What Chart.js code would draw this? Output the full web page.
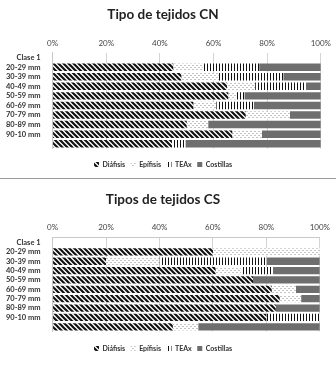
<!DOCTYPE html>
<html>
<head>
<meta charset="utf-8">
<script src="https://cdn.jsdelivr.net/npm/chart.js@4"></script>
<style>
  html, body { margin: 0; padding: 0; background: #fff; }
  #wrap { width: 336px; height: 365px; overflow: hidden; }
  .box { position: relative; width: 336px; }
  #boxCN { height: 178px; border-bottom: 1px solid #9a9a9a; }
  #boxCS { height: 186px; }
</style>
</head>
<body>
<div id="wrap">
  <div class="box" id="boxCN"><canvas id="chartCN"></canvas></div>
  <div class="box" id="boxCS"><canvas id="chartCS"></canvas></div>
</div>
<script>
const categories = ['Clase 1', '20-29 mm', '30-39 mm', '40-49 mm', '50-59 mm', '60-69 mm', '70-79 mm', '80-89 mm', '90-10 mm', ''];
const seriesNames = ['Diáfisis', 'Epífisis', 'TEAx', 'Costillas'];
const xTicks = [0, 20, 40, 60, 80, 100];

// CN (percent per row)
const cnDiafisis  = [0, 45, 48, 65, 65.5, 52.5, 72, 50, 67, 44.5];
const cnEpifisis  = [0, 11, 14, 10.5, 3, 8.5, 16.5, 8, 11, 0];
const cnTEAx      = [0, 21, 24, 19, 3, 14, 0, 0, 0, 5];
const cnCostillas = [0, 23, 14, 5.5, 28.5, 25, 11.5, 42, 22, 50.5];

// CS (percent per row)
const csDiafisis  = [0, 60, 20, 61, 75, 82, 85, 83.5, 80, 45];
const csEpifisis  = [0, 40, 20, 9.5, 0, 9, 8, 0, 0, 9.5];
const csTEAx      = [0, 0, 40, 12, 0, 0, 0, 0, 20, 0];
const csCostillas = [0, 0, 20, 17.5, 25, 9, 7, 16.5, 0, 45.5];

const FONT = 'Lato, "Liberation Sans", sans-serif';

function tile(w, h, draw) {
    const c = document.createElement('canvas');
    c.width = w; c.height = h;
    const g = c.getContext('2d');
    g.fillStyle = '#fff';
    g.fillRect(0, 0, w, h);
    draw(g);
    return document.createElement('canvas').getContext('2d').createPattern(c, 'repeat');
}

// diagonal "\" stripes
const diagFill = tile(5, 5, g => {
    g.strokeStyle = '#111';
    g.lineWidth = 2.2;
    g.beginPath();
    g.moveTo(-1, -1); g.lineTo(6, 6);
    g.moveTo(-4, 1); g.lineTo(4, 9);
    g.moveTo(1, -4); g.lineTo(9, 4);
    g.stroke();
});
// light dotted white
const dotFill = tile(4, 4, g => {
    g.fillStyle = '#c4c4c4';
    g.fillRect(0, 1, 2, 1);
    g.fillRect(2, 3, 2, 1);
});
// vertical lines
const vertFill = tile(3, 3, g => {
    g.fillStyle = '#111';
    g.fillRect(0, 0, 1, 3);
});
const solidFill = '#6e6e6e';
const fills = [diagFill, dotFill, vertFill, solidFill];

function makeChart(id, title, series, opts) {
    new Chart(document.getElementById(id), {
        type: 'bar',
        data: {
            labels: categories,
            datasets: series.map((vals, i) => ({
                label: seriesNames[i],
                data: vals,
                backgroundColor: fills[i],
                borderWidth: 0,
                categoryPercentage: 1,
                barPercentage: 0.78
            }))
        },
        options: {
            indexAxis: 'y',
            responsive: true,
            maintainAspectRatio: false,
            animation: false,
            layout: { padding: { left: 2, right: 12, top: opts.top, bottom: opts.bottom } },
            scales: {
                x: {
                    stacked: true,
                    position: 'top',
                    min: 0,
                    max: 100,
                    afterBuildTicks: axis => { axis.ticks = xTicks.map(v => ({ value: v })); },
                    ticks: {
                        callback: v => v + '%',
                        color: '#444',
                        font: { family: FONT, size: 8 },
                        padding: opts.tickPad
                    },
                    grid: { color: '#d4d4d4', drawTicks: false },
                    border: { display: opts.topBorder, color: '#c8c8c8' }
                },
                y: {
                    stacked: true,
                    ticks: {
                        autoSkip: false,
                        color: '#333',
                        font: { family: FONT, size: 7.5, weight: 'bold' },
                        padding: 4
                    },
                    grid: { display: false },
                    border: { color: '#c8c8c8' }
                }
            },
            plugins: {
                title: {
                    display: true,
                    text: title,
                    color: '#222',
                    font: { family: FONT, size: 13.5, weight: 'bold' },
                    padding: { top: 0, bottom: opts.titlePad }
                },
                legend: {
                    position: 'bottom',
                    title: {
                        display: true,
                        text: '',
                        font: { size: 2 },
                        padding: { top: opts.legendGap, bottom: 0 }
                    },
                    labels: {
                        boxWidth: 5,
                        boxHeight: 5,
                        padding: 5.5,
                        color: '#333',
                        font: { family: FONT, size: 7, weight: 'bold' }
                    }
                },
                tooltip: { enabled: false }
            }
        }
    });
}

makeChart('chartCN', 'Tipo de tejidos CN', [cnDiafisis, cnEpifisis, cnTEAx, cnCostillas],
    { top: 7, bottom: 0, titlePad: 10, tickPad: 5, legendGap: 4.6, topBorder: false });
makeChart('chartCS', 'Tipos de tejidos CS', [csDiafisis, csEpifisis, csTEAx, csCostillas],
    { top: 13, bottom: 3, titlePad: 8, tickPad: 6, legendGap: 5.6, topBorder: true });
</script>
</body>
</html>
